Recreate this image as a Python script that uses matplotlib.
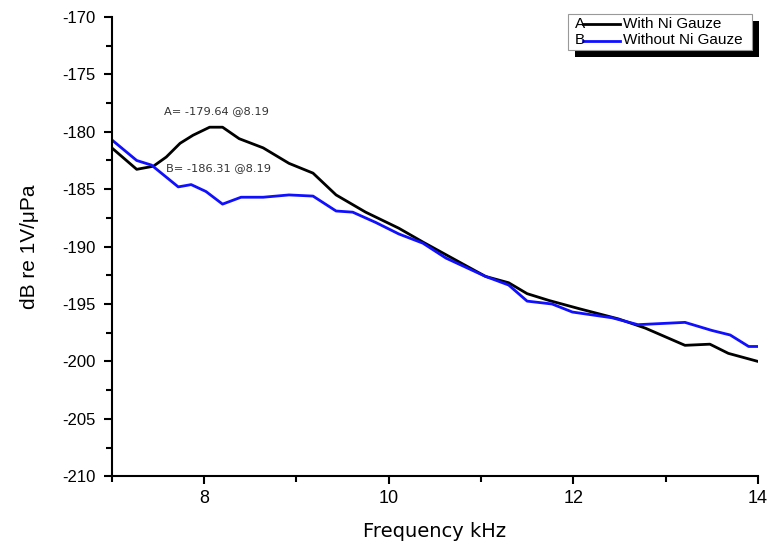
import matplotlib.pyplot as plt
from matplotlib.patches import Rectangle
from matplotlib.lines import Line2D
from matplotlib.ticker import MultipleLocator

# frequency (kHz) and response (dB re 1V/uPa)
freq_a = [7.0, 7.27, 7.45, 7.59, 7.74, 7.88, 8.06, 8.2, 8.38, 8.64, 8.92, 9.18,
          9.43, 9.75, 10.11, 10.37, 10.8, 11.05, 11.3, 11.5, 11.74, 12.06,
          12.49, 12.78, 13.21, 13.48, 13.68, 14.0]
resp_a = [-181.4, -183.27, -183.0, -182.2, -181.0, -180.3, -179.6, -179.6,
          -180.6, -181.4, -182.75, -183.6, -185.5, -187.0, -188.4, -189.6,
          -191.5, -192.6, -193.15, -194.1, -194.7, -195.4, -196.3, -197.1,
          -198.6, -198.5, -199.3, -200.0]

freq_b = [7.0, 7.27, 7.43, 7.72, 7.86, 8.02, 8.2, 8.4, 8.64, 8.92, 9.18, 9.43,
          9.61, 9.86, 10.11, 10.37, 10.62, 11.05, 11.3, 11.5, 11.77, 11.99,
          12.42, 12.7, 13.21, 13.5, 13.7, 13.9, 14.0]
resp_b = [-180.7, -182.5, -182.9, -184.8, -184.6, -185.2, -186.3, -185.7,
          -185.7, -185.5, -185.6, -186.9, -187.0, -187.9, -188.9, -189.7,
          -191.0, -192.6, -193.35, -194.75, -195.0, -195.7, -196.2, -196.8,
          -196.6, -197.3, -197.7, -198.7, -198.7]

labels = ['With Ni Gauze', 'Without Ni Gauze']
notes = ['A= -179.64 @8.19', 'B= -186.31 @8.19']

plt.rcParams['font.family'] = ['Liberation Sans', 'DejaVu Sans']
plt.rcParams['axes.unicode_minus'] = False

fig = plt.figure(figsize=(7.71, 5.48), dpi=100)
ax = fig.add_axes([0.145, 0.131, 0.838, 0.838])

ax.plot(freq_a, resp_a, color='black', lw=2)
ax.plot(freq_b, resp_b, color='#1010ff', lw=2)

ax.set_xlim(7, 14)
ax.set_ylim(-210, -170)
ax.xaxis.set_major_locator(MultipleLocator(2))
ax.xaxis.set_minor_locator(MultipleLocator(1))
ax.yaxis.set_major_locator(MultipleLocator(5))
ax.yaxis.set_minor_locator(MultipleLocator(2.5))
for s in ['top', 'right']:
    ax.spines[s].set_visible(False)
for s in ['left', 'bottom']:
    ax.spines[s].set_linewidth(1.5)
ax.tick_params(which='major', direction='out', length=6, width=1.5, colors='black')
ax.tick_params(which='minor', direction='out', length=4, width=1.5)
ax.tick_params(axis='x', labelsize=13, pad=4)
ax.tick_params(axis='y', labelsize=12, pad=6)

ax.set_ylabel('dB re 1V/\u03bcPa', fontsize=15, va='center')
ax.yaxis.set_label_coords(-0.127, 0.5)
ax.set_xlabel('Frequency kHz', fontsize=14, family='DejaVu Sans', va='center')
ax.xaxis.set_label_coords(0.5, -0.12)

ax.text(7.57, -178.2, notes[0], fontsize=8.2, family='DejaVu Sans',
        color='#333333', va='center')
ax.text(7.59, -183.16, notes[1], fontsize=8.2, family='DejaVu Sans',
        color='#333333', va='center')

# legend box with black drop shadow
def px(x, y):
    return (x / 771, 1 - y / 548)

shadow = Rectangle(px(575, 57), 184 / 771, 36 / 548, transform=fig.transFigure,
                   facecolor='black', edgecolor='none', zorder=5)
box = Rectangle(px(568, 50), 184 / 771, 36 / 548, transform=fig.transFigure,
                facecolor='white', edgecolor='#999999', lw=0.8, zorder=6)
fig.patches.extend([shadow, box])
for yy, col, lab, letter in [(24, 'black', labels[0], 'A'), (40.5, '#1010ff', labels[1], 'B')]:
    x0, y0 = px(583, yy)
    x1, _ = px(620, yy)
    fig.lines.append(Line2D([x0, x1], [y0, y0], transform=fig.transFigure,
                            color=col, lw=2, zorder=7))
    fig.text(575 / 771, y0, letter, fontsize=11, va='center', zorder=8)
    fig.text(623 / 771, y0, lab, fontsize=11, va='center', zorder=8)

fig.savefig('out.png', dpi=100)
